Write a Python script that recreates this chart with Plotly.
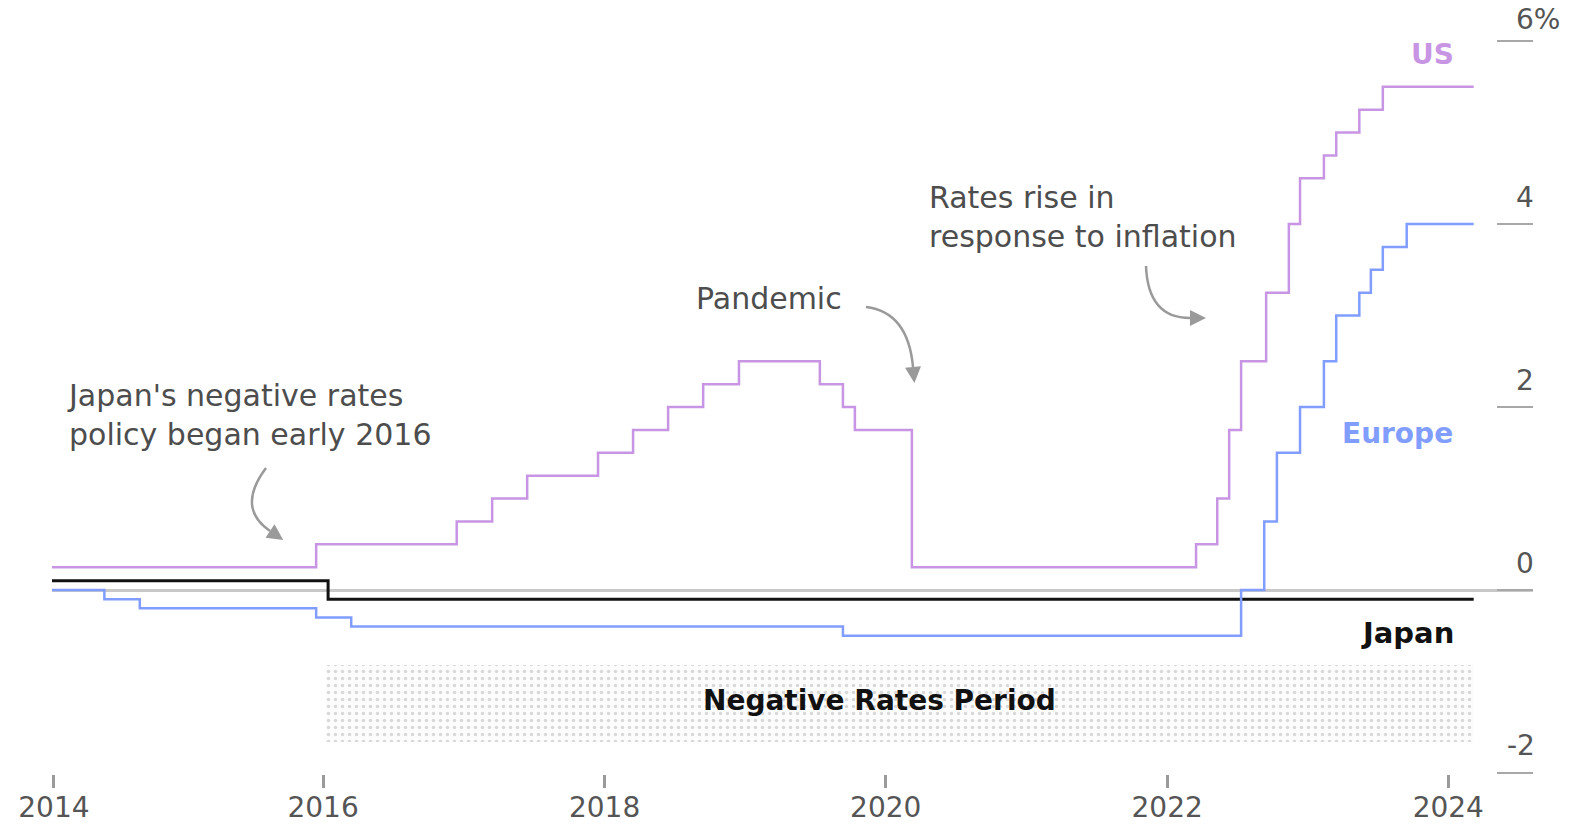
import plotly.graph_objects as go

# ---- policy rate series (%), step changes at the given dates ----
us_dates = ['2014-01-27', '2015-12-14', '2016-12-13', '2017-03-15', '2017-06-14', '2017-12-15',
            '2018-03-16', '2018-06-15', '2018-09-14', '2018-12-16', '2019-07-14', '2019-09-12',
            '2019-10-13', '2020-03-09', '2022-03-17', '2022-05-11', '2022-06-11', '2022-07-12',
            '2022-09-15', '2022-11-13', '2022-12-12', '2023-02-12', '2023-03-16', '2023-05-15',
            '2023-07-15', '2024-03-07']
us_rates = [0.25, 0.5, 0.75, 1.0, 1.25, 1.5,
            1.75, 2.0, 2.25, 2.5, 2.25, 2.0,
            1.75, 0.25, 0.5, 1.0, 1.75, 2.5,
            3.25, 4.0, 4.5, 4.75, 5.0, 5.25,
            5.5, 5.5]

europe_dates = ['2014-01-27', '2014-06-12', '2014-09-12', '2015-12-14', '2016-03-14', '2019-09-12',
                '2022-07-12', '2022-09-10', '2022-10-13', '2022-12-12', '2023-02-12', '2023-03-16',
                '2023-05-15', '2023-06-14', '2023-07-15', '2023-09-15', '2024-03-07']
europe_rates = [0.0, -0.1, -0.2, -0.3, -0.4, -0.5,
                0.0, 0.75, 1.5, 2.0, 2.5, 3.0,
                3.25, 3.5, 3.75, 4.0, 4.0]

japan_dates = ['2014-01-27', '2016-01-14', '2024-03-07']
japan_rates = [0.1, -0.1, -0.1]

# negative-rates period band
neg_period = ['2016-01-08', '2024-03-05']
neg_band = [-0.82, -1.66]

# axis ticks
x_tick_vals = ['2014-02-01', '2016-01-01', '2018-01-01', '2020-01-01', '2022-01-01', '2024-01-01']
x_tick_text = ['2014', '2016', '2018', '2020', '2022', '2024']
y_tick_vals = [-2, 0, 2, 4, 6]
y_tick_text = ['-2', '0', '2', '4', '6%']

# ---- styling ----
FONT = 'DejaVu Sans'
TEXT_GRAY = '#4d4d4d'
US_COLOR = '#c795e3'
EU_COLOR = '#809dff'
JP_COLOR = '#111111'

W, H = 1573, 826
PL, PR, PT, PB = 52, 1533, 10, 788   # plot area in pixels


def px(x):
    return (x - PL) / (PR - PL)


def py(y):
    return (PB - y) / (PB - PT)


fig = go.Figure()

# dotted band
fig.add_trace(go.Scatter(
    x=[neg_period[0], neg_period[1], neg_period[1], neg_period[0], neg_period[0]],
    y=[neg_band[0], neg_band[0], neg_band[1], neg_band[1], neg_band[0]],
    mode='lines', fill='toself', line=dict(width=0),
    fillcolor='rgba(0,0,0,0)',
    fillpattern=dict(shape='.', fgcolor='#b3b3b3', bgcolor='#fcfcfc', size=7, solidity=0.2),
    hoverinfo='skip', showlegend=False))

for xs, ys, col, w in [(japan_dates, japan_rates, JP_COLOR, 3),
                       (europe_dates, europe_rates, EU_COLOR, 2.5),
                       (us_dates, us_rates, US_COLOR, 2.5)]:
    fig.add_trace(go.Scatter(x=xs, y=ys, mode='lines', line=dict(color=col, width=w, shape='hv'),
                             showlegend=False, hoverinfo='skip'))

shapes = []


def curved_arrow(start, ctrl, end, head_len=16, head_w=8, color='#9a9a9a'):
    (x0, y0), (cx, cy), (x1, y1) = start, ctrl, end
    shapes.append(dict(type='path', xref='paper', yref='paper',
                       path=f'M {px(x0)} {py(y0)} Q {px(cx)} {py(cy)} {px(x1)} {py(y1)}',
                       line=dict(color=color, width=2.5)))
    dx, dy = x1 - cx, y1 - cy
    n = (dx * dx + dy * dy) ** 0.5
    ux, uy = dx / n, dy / n
    tx, ty = x1 + ux * head_len, y1 + uy * head_len
    bx1, by1 = x1 - uy * head_w, y1 + ux * head_w
    bx2, by2 = x1 + uy * head_w, y1 - ux * head_w
    shapes.append(dict(type='path', xref='paper', yref='paper',
                       path=f'M {px(tx)} {py(ty)} L {px(bx1)} {py(by1)} L {px(bx2)} {py(by2)} Z',
                       fillcolor=color, line=dict(width=0)))


curved_arrow((266, 468), (236, 508), (270, 531))
curved_arrow((866, 307), (908, 312), (913, 367))
curved_arrow((1146, 266), (1148, 318), (1190, 318))

annotations = []


def note(text, x, y, anchor='left', size=30, color=TEXT_GRAY, bold=False):
    if bold:
        text = f'<b>{text}</b>'
    annotations.append(dict(text=text, xref='paper', yref='paper', x=px(x), y=py(y),
                            xanchor=anchor, yanchor='middle', showarrow=False, align=anchor,
                            font=dict(family=FONT, size=size, color=color)))


note("Japan's negative rates<br>policy began early 2016", 65, 415)
note('Pandemic', 694, 298)
note('Rates rise in<br>response to inflation', 927, 217)
note('US', 1456, 55, anchor='right', size=28, color=US_COLOR, bold=True)
note('Europe', 1455, 433, anchor='right', size=28, color=EU_COLOR, bold=True)
note('Japan', 1456, 633, anchor='right', size=29, color=JP_COLOR, bold=True)
note('Negative Rates Period', 879, 700, anchor='center', size=28, color=JP_COLOR, bold=True)

# right-hand value labels sit above their tick marks
top_tick = max(y_tick_vals)
for v, t in zip(y_tick_vals, y_tick_text):
    neg = t.startswith('-')
    annotations.append(dict(text=t, xref='paper', yref='y', x=px(1537 if neg else 1514), y=v,
                            xanchor='right' if neg else 'left', yanchor='middle',
                            yshift=22 if v == top_tick else 27,
                            showarrow=False,
                            font=dict(family=FONT, size=28, color='#555555')))

fig.update_layout(
    width=W, height=H, autosize=False,
    margin=dict(l=PL, r=W - PR, t=PT, b=H - PB, pad=0),
    paper_bgcolor='white', plot_bgcolor='white',
    shapes=shapes, annotations=annotations,
    xaxis=dict(type='date', range=['2014-01-27', '2024-08-08'], automargin=False,
               tickvals=x_tick_vals, ticktext=x_tick_text,
               ticks='inside', ticklen=13, tickwidth=2.5, tickcolor='#9a9a9a',
               showgrid=False, showline=False, zeroline=False,
               tickfont=dict(family=FONT, size=28, color='#555555')),
    yaxis=dict(range=[-2.164, 6.339], side='right', tickvals=y_tick_vals, automargin=False,
               showticklabels=False, ticks='inside', ticklen=36, tickwidth=2,
               tickcolor='#a8a8a8', showgrid=False, showline=False,
               zeroline=True, zerolinecolor='#c8c8c8', zerolinewidth=3),
)

fig.write_html('out.html')
